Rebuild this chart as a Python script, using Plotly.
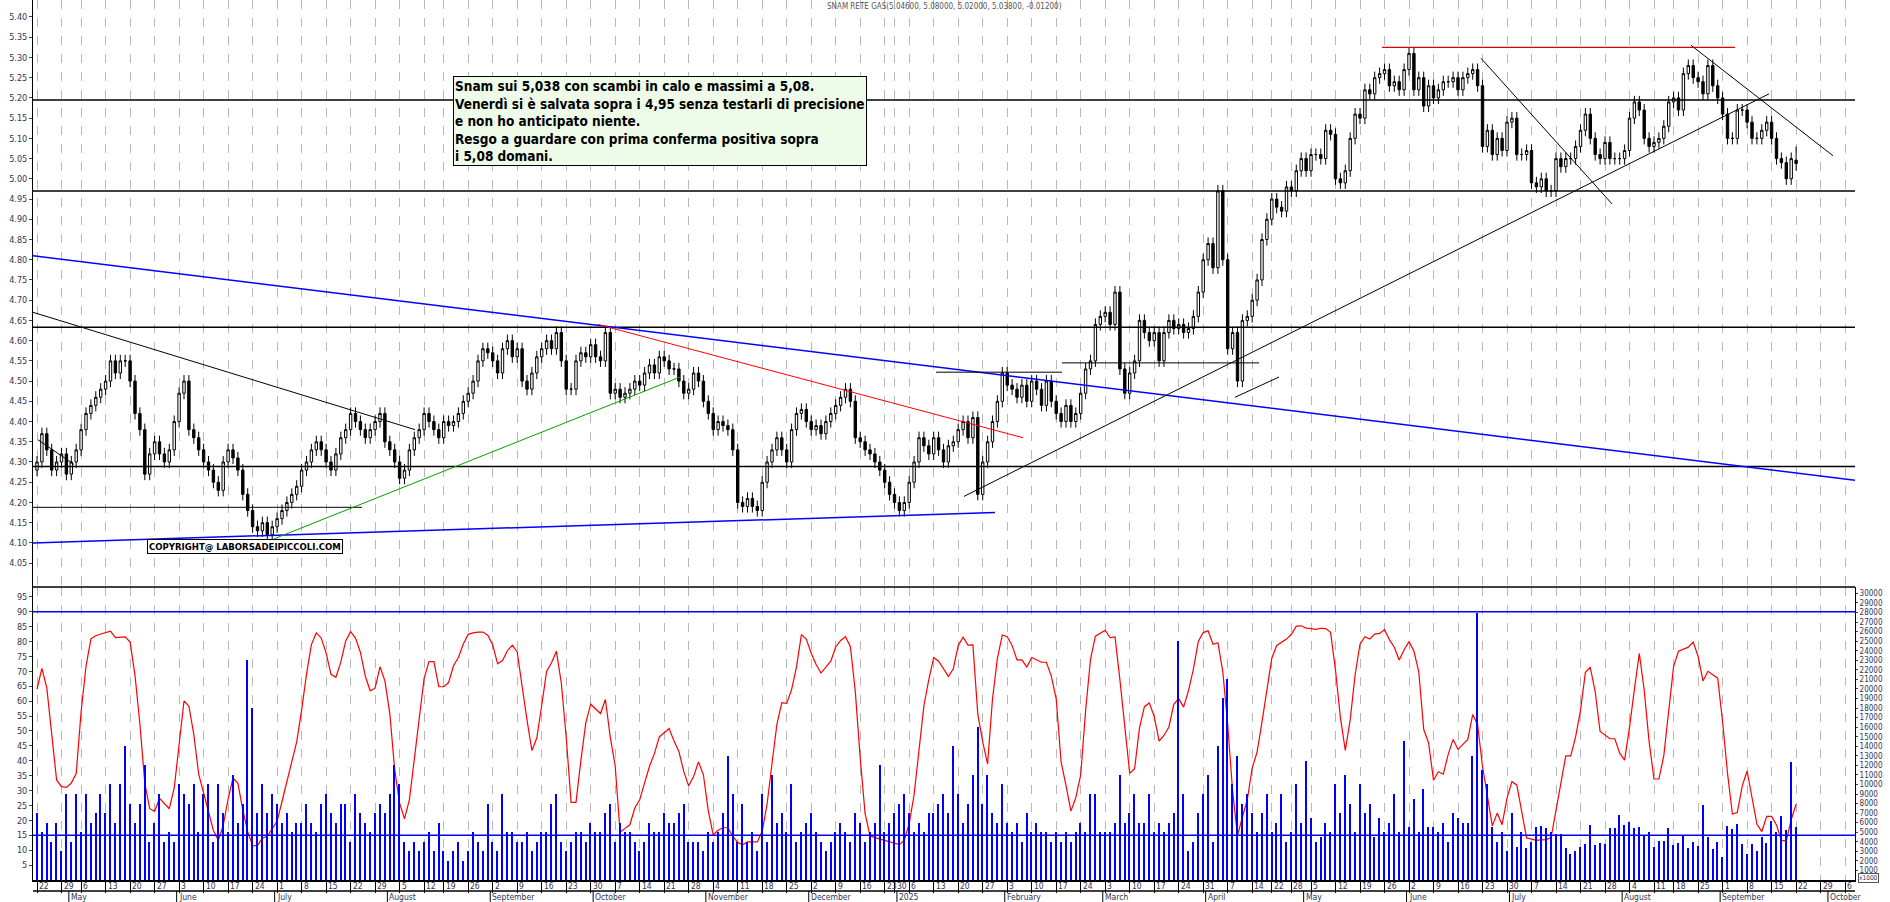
import datetime as dt
import numpy as np
import plotly.graph_objects as go

# ---------------- data ----------------
close = [
4.30,4.37,4.33,4.28,4.30,4.32,4.27,4.30,
4.33,4.38,4.42,4.44,4.46,4.48,4.50,
4.55,4.52,4.55,4.55,
4.50,4.42,4.38,4.27,
4.32,4.35,4.32,4.30,4.33,
4.40,4.47,4.50,4.38,4.36,4.33,
4.30,4.28,4.25,4.23,4.30,4.33,4.31,
4.28,4.22,4.18,
4.14,4.13,4.15,4.12,4.14,4.16,4.18,
4.20,4.22,4.24,4.28,4.30,4.33,
4.35,4.33,4.30,4.28,4.32,
4.36,4.38,4.42,4.40,4.38,4.36,4.38,4.40,4.42,4.35,
4.33,4.30,4.26,4.28,4.33,4.36,
4.38,4.42,4.40,4.38,4.36,4.40,4.39,4.40,4.42,4.45,4.47,
4.50,4.55,4.58,4.57,4.55,4.52,4.58,4.60,4.56,4.58,
4.50,4.48,4.52,4.56,4.58,4.60,4.58,4.62,4.55,4.48,4.48,4.55,4.57,4.56,4.59,4.56,4.55,4.62,
4.47,
4.48,4.46,4.47,4.48,4.50,4.49,4.52,
4.54,4.52,4.56,4.55,4.53,4.53,
4.50,4.47,4.48,4.52,4.50,4.45,
4.42,4.38,4.40,4.39,4.38,4.33,4.20,
4.19,4.21,4.19,4.18,4.25,
4.30,4.33,4.36,4.33,4.30,4.38,4.42,
4.43,4.40,4.38,4.39,4.37,4.40,4.42,4.44,
4.46,4.48,4.45,
4.36,4.35,4.33,4.32,4.30,4.28,4.25,4.22,
4.20,4.18,4.20,4.25,4.30,
4.36,4.34,4.32,4.36,4.33,4.30,4.34,
4.35,4.38,4.40,4.36,4.41,
4.22,4.30,
4.35,4.40,4.45,
4.52,4.49,
4.48,4.46,4.49,4.45,4.50,4.48,4.44,4.50,4.45,4.42,4.40,4.44,4.40,4.42,4.47,
4.53,4.55,4.64,4.66,4.67,4.64,4.72,
4.53,
4.47,4.52,
4.55,4.65,4.62,4.60,4.62,4.55,4.62,4.65,4.63,4.64,4.62,4.63,4.66,
4.72,4.80,4.84,4.78,4.97,4.80,
4.58,4.62,4.50,4.65,4.66,4.70,4.75,4.85,4.90,4.95,4.93,4.92,4.98,4.97,5.02,
5.05,5.02,5.06,5.06,
5.05,5.12,5.11,5.00,4.99,5.02,5.10,5.16,5.15,5.22,
5.21,5.25,5.26,5.27,5.23,5.24,5.22,5.27,5.31,5.22,
5.25,5.18,5.23,5.20,5.22,5.24,5.24,5.25,5.22,5.25,
5.26,5.27,5.23,5.08,5.12,5.06,5.10,5.07,5.14,5.15,
5.06,5.06,5.07,4.99,4.98,5.00,4.97,4.97,5.05,5.03,
5.05,5.05,5.08,5.12,5.16,5.10,5.06,5.05,5.09,5.05,
5.05,5.05,5.07,5.15,5.19,5.17,5.10,5.08,5.09,5.10,
5.13,5.19,5.20,5.17,5.26,5.28,5.25,5.24,5.21,5.28,
5.23,5.20,5.16,5.10,5.10,5.17,5.17,5.14,5.10,5.10,
5.12,5.14,5.10,5.05,5.04,5.00,5.05,5.038]

volume_k = [
7,5,6,4,6,3,9,4,9,5, 9,6,7,9,7,10,6,10,14,8, 6,8,12,4,6,9,4,5,4,10,
9,8,10,5,9,10,4,10,7,5, 11,6,8,23,18,7,10,7,9,8, 6,7,5,6,6,8,6,5,8,9,
7,6,8,8,4,9,7,6,5,7, 8,7,9,12,10,4,3,4,3,4, 5,3,6,3,2,3,4,2,3,5,
4,3,8,4,3,9,5,5,4,4, 5,3,4,5,5,8,9,4,3,4, 5,5,4,6,5,5,7,8,4,6,
5,5,4,3,4,6,5,5,7,6, 6,7,8,4,4,4,3,5,4,5, 7,13,9,4,8,4,5,3,9,4,
11,6,7,5,10,4,5,6,7,5, 4,3,4,5,6,5,4,7,6,4, 5,6,12,5,6,7,8,9,7,5,
6,5,7,7,8,9,7,14,9,6, 8,11,16,8,11,7,6,10,6,5, 6,4,7,5,6,5,5,4,5,4,
5,4,5,6,5,9,9,5,5,5, 6,11,6,7,9,6,6,9,5,6, 5,6,7,25,9,3,4,7,9,11,
4,14,19,21,10,13,8,9,7,5, 7,9,5,6,9,4,5,10,6,12.5, 6.5,4,4.5,6,5,10,7,11,8,5,
10,7,8,4.5,6.5,5,6,9,5,14.5, 5.5,8.5,5,9.5,5.5,5.5,5,6,4,7, 6.5,6,6,13,28,11.5,10,5.5,4,5,
3,7,3.5,5,3.3,4,5.5,5.7,5.4,5, 4.8,4.8,3.3,2.7,3,3.5,3.8,5.8,3.7,3.9,
3.8,5.4,5.4,6.8,5.8,6.1,5.4,5.6,4.7,5, 3.5,4.1,4.1,5.4,3.7,3.9,4.7,3.4,4,3.6,
7.8,4.5,3.2,4,2.4,5.7,5.3,5.9,3.8,2.7, 3.8,3,4.5,3.9,6.2,5,6.7,5.2,12.3,5.6]

last_ohlc = [5.046, 5.080, 5.020, 5.038]
holidays = ["2024-05-01", "2024-08-15", "2024-12-24", "2024-12-25", "2024-12-26",
            "2024-12-31", "2025-01-01", "2025-04-18", "2025-04-21", "2025-05-01", "2025-08-15"]
month_names = {1: "2025", 2: "February", 3: "March", 4: "April", 5: "May", 6: "June",
               7: "July", 8: "August", 9: "September", 10: "October", 11: "November", 12: "December"}
h_levels = [5.195, 4.97, 4.633, 4.289]
text_box = ("Snam sui 5,038 con scambi in calo e massimi a 5,08.<br>"
            "Venerdì si è salvata sopra i 4,95 senza testarli di precisione<br>"
            "e non ho anticipato niente.<br>"
            "Resgo a guardare con prima conferma positiva sopra<br>"
            "i 5,08 domani.")

# ---------------- build ----------------
hol = set(dt.date.fromisoformat(d) for d in holidays)
days = []
d = dt.date(2024, 4, 22)
while d <= dt.date(2025, 10, 10):
    if d.weekday() < 5 and d not in hol:
        days.append(d)
    d += dt.timedelta(days=1)

n = len(close)
x = np.arange(n)
c = np.array(close)
o = np.concatenate([[4.28], c[:-1]])
o[-1] = last_ohlc[0]
h = np.maximum(o, c) + 0.015
l = np.minimum(o, c) - 0.015
h[-1], l[-1] = last_ohlc[1], last_ohlc[2]

# stochastic oscillator computed from the price data
k = np.zeros(n)
for i in range(n):
    s = max(0, i - 13)
    hh, ll = h[s:i + 1].max(), l[s:i + 1].min()
    k[i] = 100 * (c[i] - ll) / (hh - ll) if hh > ll else 50
k1 = np.array([k[max(0, i - 2):i + 1].mean() for i in range(n)])
osc = 8 + k1 * 0.8

vol = np.array(volume_k[:n]) * 1000

PX0, PX1 = 33, 1855
H_PLOT = 880
def px2i(px):
    return (px - 37) / 4.9

fig = go.Figure()
fig.add_trace(go.Candlestick(
    x=x, open=o, high=h, low=l, close=c, xaxis="x", yaxis="y",
    increasing=dict(line=dict(color="black", width=1), fillcolor="white"),
    decreasing=dict(line=dict(color="black", width=1), fillcolor="black"),
    whiskerwidth=0, showlegend=False, hoverinfo="skip"))
fig.add_trace(go.Bar(x=x, y=vol, xaxis="x2", yaxis="y3", marker_color="#0000ff",
                     marker_line_width=0, width=0.3, showlegend=False))
fig.add_trace(go.Scatter(x=x, y=osc, xaxis="x2", yaxis="y2", mode="lines",
                         line=dict(color="#ff0000", width=1.2), showlegend=False))

xr = [px2i(PX0), px2i(PX1)]
tickv, tickt = [], []
seen = set()
for i, dd in enumerate(days):
    wk = dd.isocalendar()[:2]
    if wk not in seen:
        seen.add(wk)
        if px2i(PX0) < i < px2i(PX1):
            tickv.append(i)
            tickt.append(str(dd.day))

FAM = "DejaVu Sans Condensed, Liberation Sans Narrow, Arial"
axfont = dict(family=FAM, size=9, color="#333355")
smallfont = dict(family=FAM, size=8.5, color="#333355")
ticks_p = list(np.round(np.arange(4.05, 5.41, 0.05), 2))
vticks = list(range(1000, 30001, 1000))
fig.update_layout(
    width=1890, height=902, paper_bgcolor="white", plot_bgcolor="white",
    margin=dict(l=PX0, r=1890 - PX1, t=0, b=902 - H_PLOT),
    xaxis=dict(domain=[0, 1], range=xr, tickvals=tickv, showticklabels=False,
               showgrid=True, gridcolor="#b8b8b8", griddash="dash", gridwidth=1,
               rangeslider=dict(visible=False), zeroline=False, anchor="y"),
    xaxis2=dict(domain=[0, 1], range=xr, tickvals=tickv, showticklabels=False, matches="x",
                showgrid=True, gridcolor="#b8b8b8", griddash="dash", gridwidth=1,
                ticks="outside", ticklen=11, tickcolor="black", zeroline=False, anchor="y2",
                showline=True, linecolor="black", linewidth=1.5),
    yaxis=dict(domain=[1 - 587 / H_PLOT, 1], range=[3.991, 5.442], tickvals=ticks_p,
               tickformat=".2f", tickfont=axfont, showgrid=False, zeroline=False,
               showline=True, linecolor="black", ticks="outside", ticklen=3),
    yaxis4=dict(domain=[1 - 587 / H_PLOT, 1], range=[3.991, 5.442], overlaying="y", side="right", anchor="x",
                tickvals=ticks_p, tickformat=".2f", tickfont=axfont, showgrid=False, zeroline=False,
                showline=True, linecolor="black", ticks="outside", ticklen=3),
    yaxis2=dict(domain=[0, 1 - 587 / H_PLOT], range=[0, 98.3], tickvals=list(range(5, 96, 5)),
                tickfont=axfont, showgrid=False, zeroline=False, showline=True, linecolor="black",
                ticks="outside", ticklen=3, anchor="x2"),
    yaxis3=dict(domain=[0, 1 - 587 / H_PLOT], range=[0, 30670], overlaying="y2", side="right",
                tickvals=vticks, ticktext=[str(v) for v in vticks],
                tickfont=dict(family=FAM, size=8, color="#333355"),
                showgrid=False, zeroline=False, showline=True, linecolor="black", ticks="outside",
                ticklen=2, anchor="x2"),
    bargap=0,
)

shapes = []
def seg(x0, y0, x1, y1, color, width=1, yref="y"):
    shapes.append(dict(type="line", xref="x", yref=yref, x0=px2i(x0), y0=y0, x1=px2i(x1), y1=y1,
                       line=dict(color=color, width=width)))
for lv in h_levels:
    seg(PX0, lv, PX1, lv, "black", 1.5)
seg(PX0, 4.188, 362, 4.188, "black", 1)
seg(1382, 5.325, 1735, 5.325, "#e00000", 1.2)
seg(PX0, 4.81, PX1, 4.255, "#0000ff", 1.5)
seg(PX0, 4.10, 995, 4.175, "#0000ff", 1.5)
seg(PX0, 4.67, 415, 4.38, "black", 1)
seg(38, 4.355, 74, 4.294, "black", 1)
seg(274, 4.11, 680, 4.51, "#00a000", 1)
seg(598, 4.64, 1023, 4.36, "#ff0000", 1)
seg(964, 4.215, 1769, 5.21, "black", 1)
seg(1235, 4.46, 1279, 4.51, "black", 1)
seg(936, 4.522, 1062, 4.522, "black", 1)
seg(1062, 4.545, 1259, 4.545, "black", 1)
seg(1481, 5.298, 1612, 4.938, "black", 1)
seg(1691, 5.33, 1833, 5.057, "black", 1)
seg(PX0, 90, PX1, 90, "#0000ff", 1.5, "y2")
seg(PX0, 15, PX1, 15, "#0000ff", 1.5, "y2")
shapes.append(dict(type="line", xref="paper", yref="paper", x0=0, x1=1, y0=1 - 587 / H_PLOT, y1=1 - 587 / H_PLOT,
                   line=dict(color="black", width=1.5)))
yrow = -11 / H_PLOT
shapes.append(dict(type="line", xref="paper", yref="paper", x0=0, x1=1, y0=yrow, y1=yrow,
                   line=dict(color="black", width=1.5)))

annotations = []
for tv, tt in zip(tickv, tickt):
    annotations.append(dict(x=tv, y=0, xref="x2", yref="paper", text=tt, showarrow=False,
                            xanchor="left", yanchor="middle", xshift=1, yshift=-6, borderpad=0,
                            font=smallfont))
prev_m = None
for i, dd in enumerate(days):
    if dd.month != prev_m:
        prev_m = dd.month
        if i == 0 or not (px2i(PX0) < i < px2i(PX1)):
            continue
        annotations.append(dict(x=i - 0.5, y=0, xref="x2", yref="paper", text=month_names[dd.month],
                                showarrow=False, xanchor="left", yanchor="middle", xshift=1, yshift=-16.5,
                                borderpad=0, font=smallfont))
        shapes.append(dict(type="line", xref="x2", yref="paper", x0=i - 0.5, x1=i - 0.5, y0=yrow,
                           y1=-22 / H_PLOT, line=dict(color="black", width=1)))
annotations.append(dict(xref="paper", yref="paper", x=0.5, y=1, yanchor="top", showarrow=False,
                        text="SNAM RETE GAS(5.04600, 5.08000, 5.02000, 5.03800, -0.01200)",
                        font=dict(family=FAM, size=8, color="#555555")))
annotations.append(dict(xref="x", yref="y", x=px2i(453), y=5.442 - 76 / 405, xanchor="left", yanchor="top",
                        showarrow=False, align="left", text="<b>" + text_box + "</b>",
                        bgcolor="#effbe9", bordercolor="black", borderwidth=1, borderpad=1,
                        font=dict(family=FAM, size=13.5, color="black")))
annotations.append(dict(xref="x", yref="y", x=px2i(147), y=4.09, xanchor="left", yanchor="middle",
                        showarrow=False, text="<b>COPYRIGHT@ LABORSADEIPICCOLI.COM</b>",
                        bgcolor="white", bordercolor="black", borderwidth=1, borderpad=1,
                        font=dict(family=FAM, size=9.5, color="black")))
annotations.append(dict(xref="paper", yref="paper", x=1, y=0, xanchor="left", yanchor="bottom", xshift=3,
                        yshift=-3, showarrow=False, text="x1000",
                        font=dict(family=FAM, size=6.5, color="#333355"),
                        bgcolor="white", bordercolor="#555", borderwidth=1, borderpad=0))
fig.update_layout(shapes=shapes, annotations=annotations)
fig.write_html("out.html", config={"displayModeBar": False},
               post_script="document.body.style.margin='0';document.body.style.overflow='hidden';")
